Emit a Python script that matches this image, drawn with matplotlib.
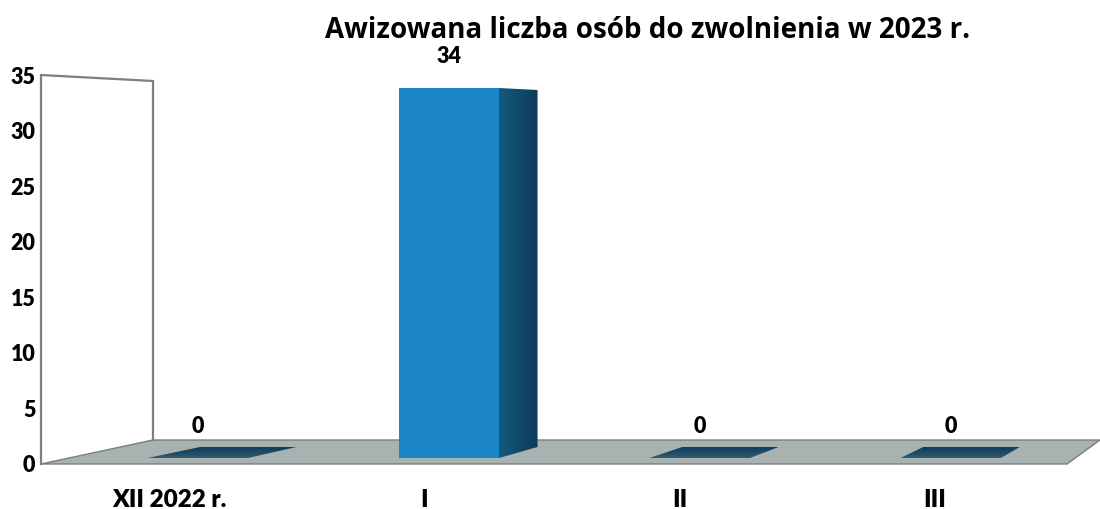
import matplotlib
matplotlib.use("Agg")
import matplotlib.pyplot as plt
import numpy as np
from matplotlib.patches import Polygon
from matplotlib.colors import LinearSegmentedColormap
from matplotlib.transforms import ScaledTranslation

categories = ["XII 2022 r.", "I", "II", "III"]
values = [0, 34, 0, 0]
y_ticks = [0, 5, 10, 15, 20, 25, 30, 35]
title = "Awizowana liczba osób do zwolnienia w 2023 r."

W, H = 1100, 510
LEFT, RIGHT, BOTTOM, TOP = 41, 1067, 464, 75   # plot box, pixels
BAR_X0, BAR_STEP, BAR_W = 197.7, 251.0, 0.4

plt.rcParams["font.family"] = "Lato"
plt.rcParams["font.weight"] = "heavy"
fig = plt.figure(figsize=(W / 100, H / 100), dpi=100)
# 1 px down so the pixel grid lands where the original does
ax = fig.add_axes([LEFT / W, 1 - (BOTTOM + 1) / H, (RIGHT - LEFT) / W, (BOTTOM - TOP) / H])


def xu(px):
    return (px - BAR_X0) / BAR_STEP


def yu(px):
    return (BOTTOM - px) / (BOTTOM - TOP) * 35


def front(x, v):
    # bar front plane sits a little behind the axis front edge
    return x, yu(458 - v * 370 / 34)


def back(x, v):
    # depth shrinks to the right, towards the vanishing point
    px = BAR_X0 + x * BAR_STEP
    shift = 52.5 - 0.0395 * (px - 148)
    return x + shift / BAR_STEP, yu(447 - v * 357 / 34)


def gradient_poly(points, c0, c1, vertical=False, zorder=3):
    poly = Polygon(points, closed=True, fc="none", ec="none", zorder=zorder)
    ax.add_patch(poly)
    cmap = LinearSegmentedColormap.from_list("g", [c0, c1])
    pts = np.array(points)
    grad = np.linspace(0, 1, 64).reshape(-1, 1) if vertical else np.linspace(0, 1, 64).reshape(1, -1)
    im = ax.imshow(grad, cmap=cmap, aspect="auto", origin="lower", zorder=zorder,
                   extent=[pts[:, 0].min(), pts[:, 0].max(), pts[:, 1].min(), pts[:, 1].max()])
    im.set_clip_path(poly)


# floor and back wall
ax.add_patch(Polygon([(xu(41), yu(464)), (xu(153), yu(440)), (xu(1100), yu(440)), (xu(1067), yu(464))],
                     closed=True, fc="#a8b2b0", ec="#7a7f7e", lw=1, clip_on=False, zorder=1))
ax.plot([xu(41), xu(41), xu(153), xu(153)], [yu(464), yu(75), yu(81), yu(440)],
        color="#7f7f7f", lw=1.6, solid_joinstyle="miter", clip_on=False, zorder=2)

for i, v in enumerate(values):
    x0, x1 = i - BAR_W / 2, i + BAR_W / 2
    if v == 0:
        gradient_poly([front(x0, 0), front(x1, 0), back(x1, 0), back(x0, 0)],
                      "#335a6c", "#0c3c5e", vertical=True)
    else:
        gradient_poly([front(x1, 0), back(x1, 0), back(x1, v), front(x1, v)], "#14597f", "#0e3b58")
        ax.add_patch(Polygon([front(x0, 0), front(x1, 0), front(x1, v), front(x0, v)],
                             closed=True, fc="#1a86c8", ec="none", zorder=4))
    ax.annotate(str(v), xy=front(i, v), xytext=(0, 16), textcoords="offset points",
                ha="center", va="bottom", fontsize=15.5, color="black", zorder=5)

ax.set_xlim((LEFT - BAR_X0) / BAR_STEP, (RIGHT - BAR_X0) / BAR_STEP)
ax.set_ylim(0, 35)

for s in ax.spines.values():
    s.set_visible(False)
ax.patch.set_visible(False)
ax.set_yticks(y_ticks)
ax.set_yticklabels([str(t) for t in y_ticks], fontsize=15.5)
ax.tick_params(axis="y", length=0, pad=4)
for lab in ax.get_yticklabels():
    lab.set_transform(lab.get_transform() + ScaledTranslation(0, 0.01, fig.dpi_scale_trans))
ax.set_xticks([])

# category labels are set left of the bars in the original
for i, c in enumerate(categories):
    ax.annotate(c, xy=(i, 0), xytext=(-20.5 + 3.1 * i, -17.5), textcoords="offset points",
                ha="center", va="top", fontsize=17.5, annotation_clip=False)

fig.text(648 / W, 1 - 30 / H, title, ha="center", va="center", fontsize=20, fontweight="bold",
         family="Open Sans")

fig.savefig("out.png", dpi=100)
